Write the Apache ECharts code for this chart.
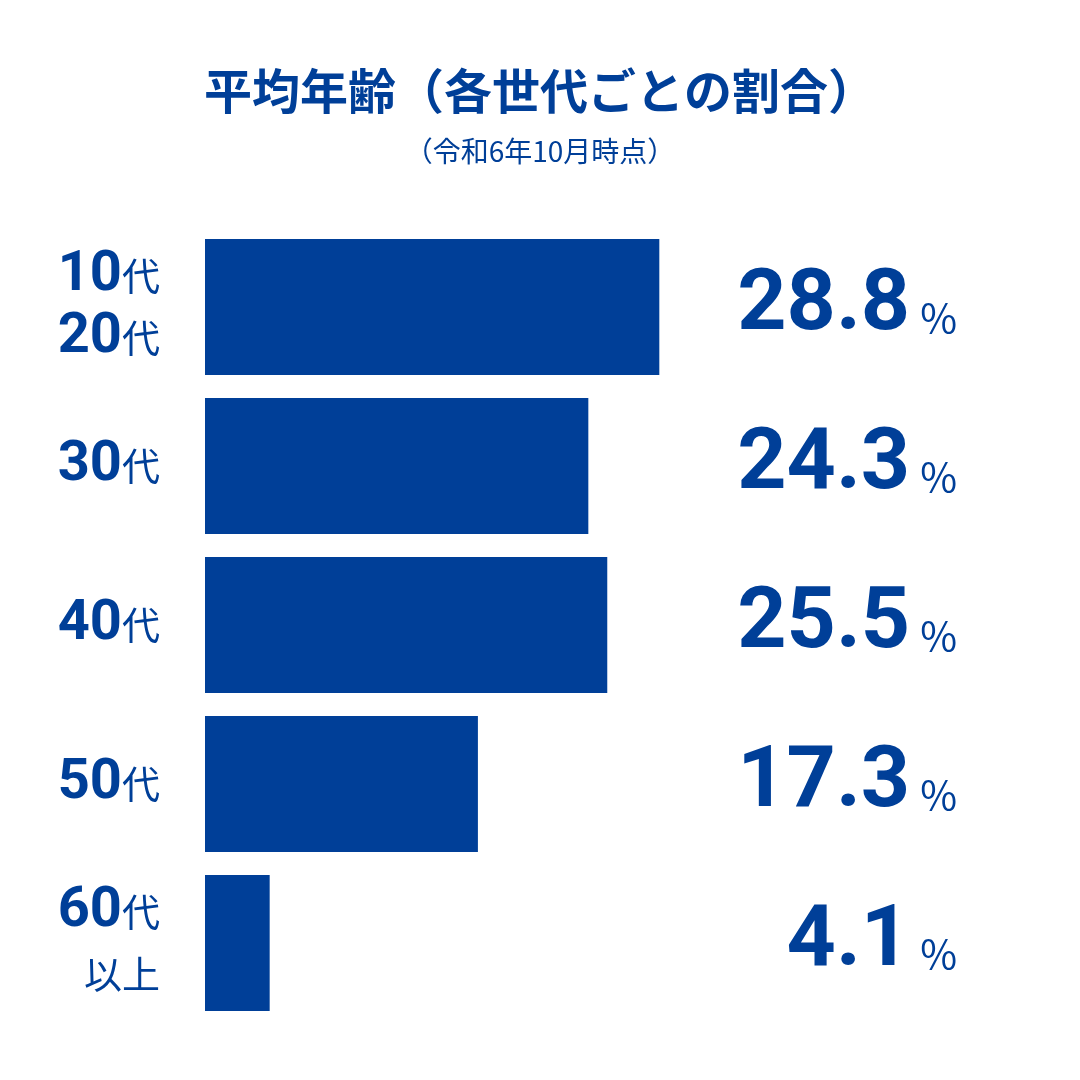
<!DOCTYPE html>
<html>
<head>
<meta charset="utf-8">
<script src="https://cdn.jsdelivr.net/npm/echarts@6/dist/echarts.min.js"></script>
<style>html,body{margin:0;padding:0;background:#fff}#main{width:1080px;height:1080px}</style>
</head>
<body>
<div id="main"></div>
<script>
var categories = ['{n|10}{k|代}\n{n|20}{k|代}', '{n|30}{k|代}', '{n|40}{k|代}', '{n|50}{k|代}', '{n|60}{k|代}\n{k|以上}'];
var values = [28.8, 24.3, 25.5, 17.3, 4.1];
var valueLabels = ['28.8', '24.3', '25.5', '17.3', '4.1'];

var blue = '#003f98';
var myChart = echarts.init(document.getElementById('main'));
var option = {
    title: {
        text: '平均年齢（各世代ごとの割合）',
        subtext: '（令和6年10月時点）',
        left: 'center',
        top: 62,
        itemGap: 22,
        textStyle: {color: blue, fontSize: 48, fontWeight: 'bold', fontFamily: 'Noto Sans CJK JP'},
        subtextStyle: {color: blue, fontSize: 28, fontFamily: 'Noto Sans CJK JP'}
    },
    grid: {left: 205, right: 244, top: 227.5, bottom: 57.5},
    xAxis: {type: 'value', min: 0, max: 40, show: false},
    yAxis: [{
        type: 'category',
        inverse: true,
        data: categories,
        axisLine: {show: false},
        axisTick: {show: false},
        axisLabel: {
            margin: 45,
            align: 'right',
            lineHeight: 62,
            rich: {
                n: {fontSize: 56, fontWeight: 'bold', color: blue, fontFamily: 'Roboto', lineHeight: 62},
                k: {fontSize: 38, color: blue, fontFamily: 'Noto Sans CJK JP', lineHeight: 62}
            }
        }
    }, {
        type: 'category',
        inverse: true,
        position: 'right',
        data: valueLabels,
        axisLine: {show: false},
        axisTick: {show: false},
        axisLabel: {
            margin: 121,
            align: 'right',
            formatter: function (v) { return '{n|' + v + '}{p|%}'; },
            rich: {
                n: {fontSize: 86, fontWeight: 'bold', color: blue, fontFamily: 'Roboto', padding: [0, 10, 0, 0]},
                p: {fontSize: 40, color: blue, fontFamily: 'Noto Sans CJK JP', padding: [22, 0, 0, 0]}
            }
        }
    }],
    series: [{
        type: 'bar',
        data: values,
        barWidth: 136,
        itemStyle: {color: blue},
        silent: true
    }]
};
myChart.setOption(option, true);
</script>
</body>
</html>
